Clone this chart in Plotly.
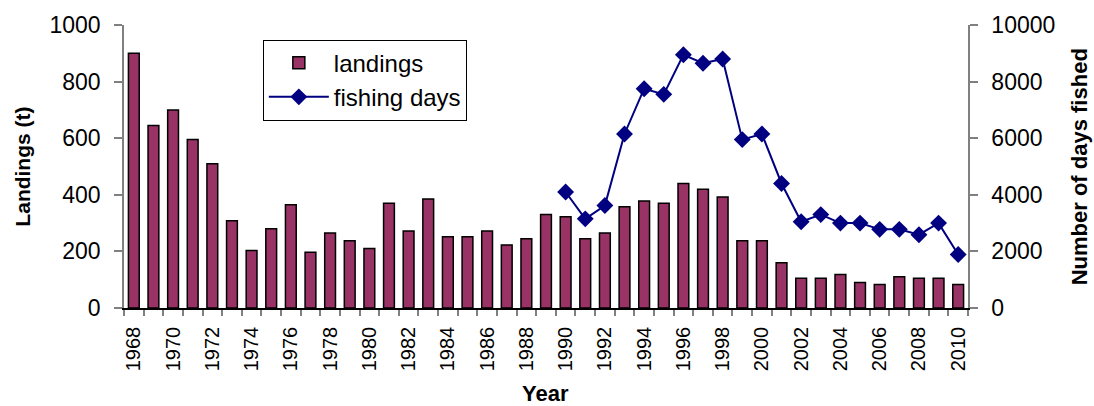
import plotly.graph_objects as go

# Annual landings (t) and fishing effort (days fished)
years = list(range(1968, 2011))
landings = [900, 645, 700, 595, 510, 308, 203, 280, 365, 197,
            265, 238, 210, 370, 272, 385, 252, 252, 272, 223,
            245, 330, 322, 245, 265, 358, 378, 370, 440, 420,
            392, 238, 238, 160, 105, 105, 118, 90, 83, 110,
            105, 105, 83]
effort_years = list(range(1990, 2011))
fishing_days = [4100, 3150, 3620, 6150, 7750, 7550, 8950, 8650, 8800, 5950,
                6150, 4400, 3050, 3300, 3000, 3000, 2780, 2780, 2590, 3000,
                1890]
label_years = list(range(1968, 2011, 2))
y_ticks = [0, 200, 400, 600, 800, 1000]
y2_ticks = [0, 2000, 4000, 6000, 8000, 10000]

FONT = "Arial, Liberation Sans, sans-serif"
AXIS_GREY = "#808080"

fig = go.Figure()
fig.add_trace(go.Bar(
    x=years, y=landings, name="landings", width=0.55,
    marker=dict(color="#993366", line=dict(color="black", width=1.5)),
))
fig.add_trace(go.Scatter(
    x=effort_years, y=fishing_days, name="fishing days", yaxis="y2",
    mode="lines+markers",
    line=dict(color="#000080", width=2),
    marker=dict(symbol="diamond", size=13, color="#000080"),
))

# tick marks sit between the yearly bars
boundaries = [y - 0.5 for y in range(1968, 2012)]

fig.update_layout(
    width=1094, height=406,
    margin=dict(l=124, r=126, t=22, b=98),
    paper_bgcolor="white", plot_bgcolor="white",
    font=dict(family=FONT, color="black"),
    showlegend=True,
    legend=dict(
        x=0.1645, y=0.9486, xanchor="left", yanchor="top",
        bgcolor="white", bordercolor="black", borderwidth=1,
        font=dict(size=24, family=FONT), itemwidth=60,
    ),
    xaxis=dict(
        range=[1967.5, 2010.5], tickmode="array", tickvals=label_years,
        ticktext=[str(y) for y in label_years], tickangle=-90,
        ticks="", tickfont=dict(size=20, family=FONT), ticklabelstandoff=9,
        showline=True, linecolor="black", linewidth=1.5,
        showgrid=False, zeroline=False,
        minor=dict(tickmode="array", tickvals=boundaries, ticks="outside",
                   ticklen=6, tickcolor=AXIS_GREY, tickwidth=1.5),
    ),
    yaxis=dict(
        range=[0, 1000], tickmode="array", tickvals=y_ticks,
        ticktext=[str(v) for v in y_ticks],
        ticks="outside", ticklen=8, tickcolor=AXIS_GREY, tickwidth=1.5,
        tickfont=dict(size=23, family=FONT), ticklabelstandoff=9,
        showline=True, linecolor=AXIS_GREY, linewidth=1.5,
        showgrid=False, zeroline=False,
    ),
    yaxis2=dict(
        range=[0, 10000], tickmode="array", tickvals=y2_ticks,
        ticktext=[str(v) for v in y2_ticks],
        overlaying="y", side="right",
        ticks="outside", ticklen=8, tickcolor=AXIS_GREY, tickwidth=1.5,
        tickfont=dict(size=23, family=FONT), ticklabelstandoff=9,
        showline=True, linecolor=AXIS_GREY, linewidth=1.5,
        showgrid=False, zeroline=False,
    ),
    annotations=[
        dict(text="<b>Landings (t)</b>", xref="paper", yref="paper",
             x=-0.1207, y=0.5, xanchor="center", yanchor="middle",
             textangle=-90, showarrow=False, font=dict(size=21, family=FONT)),
        dict(text="<b>Number of days fished</b>", xref="paper", yref="paper",
             x=1.1325, y=0.5, xanchor="center", yanchor="middle",
             textangle=-90, showarrow=False, font=dict(size=22, family=FONT)),
        dict(text="<b>Year</b>", xref="paper", yref="paper",
             x=0.4995, y=-0.303, xanchor="center", yanchor="middle",
             showarrow=False, font=dict(size=22, family=FONT)),
    ],
)

fig.write_html("out.html")
